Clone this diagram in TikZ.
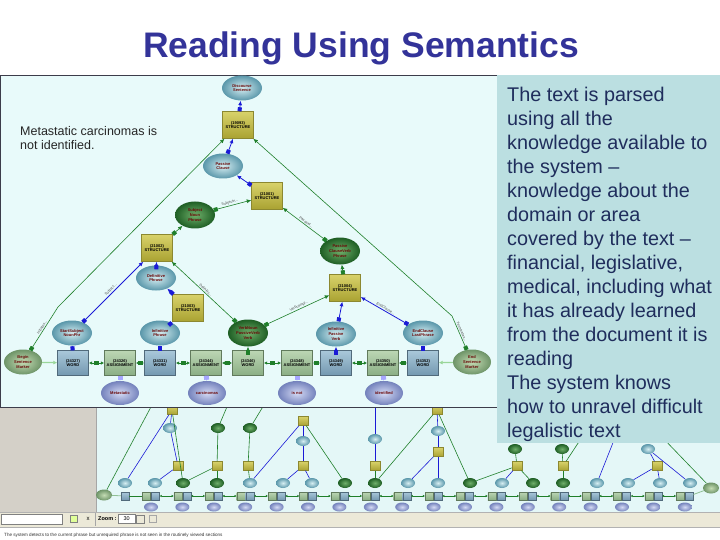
\documentclass[tikz,border=0pt]{standalone}
\usepackage{fontspec}
\setmainfont{Liberation Sans}
\usetikzlibrary{shapes.geometric,arrows.meta}
\definecolor{titleblue}{HTML}{333399}
\definecolor{navytext}{HTML}{1F2D5C}
\definecolor{rbox}{HTML}{BBDFE1}
\definecolor{insetbg}{HTML}{E8FAFA}
\definecolor{lowbg}{HTML}{E4F7F7}
\definecolor{panel}{HTML}{D4D0C8}
\definecolor{toolbar}{HTML}{ECE9D8}
\definecolor{tealL}{HTML}{D6EEF2}
\definecolor{tealD}{HTML}{5A97AA}
\definecolor{greenL}{HTML}{6FAF6A}
\definecolor{greenD}{HTML}{1E5E24}
\definecolor{ggL}{HTML}{C4DCB4}
\definecolor{ggD}{HTML}{6E9468}
\definecolor{purL}{HTML}{D4DAF4}
\definecolor{purD}{HTML}{7482BC}
\definecolor{yelT}{HTML}{D8D26A}
\definecolor{yelB}{HTML}{A9A232}
\definecolor{yelE}{HTML}{8C8830}
\definecolor{wbT}{HTML}{A9C8DA}
\definecolor{wbB}{HTML}{7498B0}
\definecolor{agT}{HTML}{BCD6B4}
\definecolor{agB}{HTML}{8AAE84}
\definecolor{lblue}{HTML}{1A1AD6}
\definecolor{lgreen}{HTML}{1F7F2A}
\definecolor{labred}{HTML}{6A0808}
\definecolor{framegray}{HTML}{3C3C4A}
\begin{document}
\begin{tikzpicture}[x=1pt,y=-1pt,
  nodefont/.style={font=\fontsize{4}{4.6}\selectfont\bfseries, align=center},
  tl/.style={ellipse, inner color=tealL, outer color=tealD, minimum width=40pt, minimum height=25pt, inner sep=0pt, text=labred, nodefont},
  gn/.style={ellipse, inner color=greenL, outer color=greenD, minimum width=40pt, minimum height=27pt, inner sep=0pt, text=labred, nodefont},
  gg/.style={ellipse, inner color=ggL, outer color=ggD, minimum width=38pt, minimum height=25pt, inner sep=0pt, text=labred, nodefont},
  pu/.style={ellipse, inner color=purL, outer color=purD, minimum width=38pt, minimum height=24pt, inner sep=0pt, text=labred, nodefont},
  yb/.style={rectangle, top color=yelT, bottom color=yelB, draw=yelE, line width=0.4pt, minimum width=31pt, minimum height=27pt, inner sep=0pt, nodefont, text=black},
  wb/.style={rectangle, top color=wbT, bottom color=wbB, draw=wbB!70!black, line width=0.4pt, minimum width=31pt, minimum height=25pt, inner sep=0pt, nodefont, text=black},
  ab/.style={rectangle, top color=agT, bottom color=agB, draw=agB!70!black, line width=0.4pt, minimum width=31pt, minimum height=25pt, inner sep=0pt, nodefont, text=black},
  stl/.style={tl, minimum width=14pt, minimum height=10pt},
  sgn/.style={gn, minimum width=14pt, minimum height=10pt},
  sgg/.style={gg, minimum width=16pt, minimum height=11pt},
  spu/.style={pu, minimum width=14pt, minimum height=9pt},
  syb/.style={yb, minimum width=10pt, minimum height=9pt},
  swb/.style={wb, minimum width=8pt, minimum height=8pt},
  sab/.style={ab, minimum width=8pt, minimum height=8pt},
  bl/.style={draw=lblue, line width=0.8pt, {Square[length=4pt,width=4pt]}-{Latex[length=4.5pt,width=4pt]}},
  gr/.style={draw=lgreen, line width=0.6pt, {Square[length=4pt,width=4pt]}-{Latex[length=4.5pt,width=4pt]}},
  rowc/.style={draw=lgreen, line width=0.8pt, {Latex[length=3.5pt,width=3.5pt]}-{Latex[length=3.5pt,width=3.5pt]}},
  lgc/.style={draw=green!60!black!40, line width=1.2pt, -{Latex[length=4pt,width=4pt]}},
  lbc/.style={draw=blue!35, line width=1.2pt, {Square[length=4pt,width=5pt]}-{Latex[length=3pt,width=4pt]}},
  sbl/.style={draw=lblue, line width=0.6pt},
  sgr/.style={draw=lgreen, line width=0.6pt},
  elab/.style={font=\fontsize{3.6}{4}\selectfont, text=black!70, sloped, above, inner sep=1pt}
]
\useasboundingbox (0,0) rectangle (720,540);
\fill[white] (0,0) rectangle (720,540);

% ---------- title ----------
\node[anchor=base, text=titleblue, font=\fontsize{35.5}{40}\selectfont\bfseries, inner sep=0pt] (title) at (361,58) {Reading Using Semantics};

% ---------- lower background screenshot ----------
\fill[lowbg] (96,400) rectangle (720,512);
\fill[panel] (0,400) rectangle (96,512);
\draw[gray!70] (96,400) -- (96,512);
\fill[toolbar] (0,512) rectangle (720,527);
\draw[gray!60] (0,512) -- (720,512);
\draw[gray!60] (0,527) -- (720,527);
\fill[white] (1,514) rectangle (62,524);
\draw[gray] (1,514) rectangle (62,524);
\node[draw=gray, fill=green!30!yellow!40, minimum size=7pt, inner sep=0pt] (ico1) at (74,519) {};
\node[font=\fontsize{6}{6}\selectfont, inner sep=0pt] (ico2) at (88,519) {x};
\draw[gray!70] (95,513) -- (95,526);
\node[anchor=west, font=\fontsize{5.5}{6}\selectfont\bfseries, inner sep=0pt] (zoomlab) at (98,519) {Zoom :};
\node[anchor=west, draw=gray, fill=white, minimum width=17pt, minimum height=9pt, inner sep=1pt, font=\fontsize{5.5}{6}\selectfont] (zoomval) at (118,519) {30\hfill};
\node[draw=gray, fill=toolbar, minimum size=8pt, inner sep=0pt] (zdrop) at (140,519) {};
\node[draw=gray!70, fill=toolbar, minimum size=7pt, inner sep=0pt] (zbtn) at (153,519) {};
\node[anchor=west, font=\fontsize{4.6}{5}\selectfont, text=black!80, inner sep=0pt] (caption) at (4,535) {The system detects to the current phrase but unrequired phrase is not seen in the routinely viewed sections};

% row of small nodes
\foreach \k in {0,...,17}{
  \pgfmathsetmacro\cx{151+31.4*\k}
  \node[sab] (pa\k) at (\cx-4.5,496) {};
  \node[swb] (pb\k) at (\cx+4.5,496) {};
  \node[spu] (pe\k) at (\cx,507) {};
}
\node[sgg] (bgn) at (104,495) {};
\node[swb] (pfirst) at (125,496) {};
\node[sgg] (endm) at (711,488) {};
\draw[lgreen!50, line width=0.8pt] (bgn) -- (pfirst);
\draw[lgreen, line width=0.8pt] (pfirst) -- (pa0);
\foreach \k in {0,...,16}{
  \pgfmathtruncatemacro\n{\k+1}
  \draw[lgreen, line width=0.8pt, {Latex[length=2pt,width=2.5pt]}-{Latex[length=2pt,width=2.5pt]}] (pb\k) -- (pa\n);
}
\draw[lgreen!50, line width=0.8pt] (pb17) -- (endm);

\foreach \x/\s [count=\i] in {125/stl,155/stl,183/sgn,217/sgn,250/stl,283/stl,312/stl,345/sgn,375/sgn,408/stl,438/stl,470/sgn,502/stl,533/sgn,563/sgn,597/stl,628/stl,660/stl,690/stl}{
  \node[\s] (ue\i) at (\x,483) {};
}
\foreach \x/\y [count=\i] in {172/410,303/421,178/466,217/466,248/466,303/466,375/466,437/410,438/452,517/466,563/466,657/466}{
  \node[syb] (yb\i) at (\x,\y) {};
}
\foreach \x/\y/\s [count=\i] in {170/428/stl,218/428/sgn,250/428/sgn,303/441/stl,375/439/stl,438/431/stl,515/449/sgn,562/449/sgn,648/449/stl}{
  \node[\s] (me\i) at (\x,\y) {};
}
\coordinate (k1) at (160,390);
\coordinate (k2) at (232,395);
\coordinate (k3) at (270,395);
\coordinate (k4) at (375,395);
\coordinate (k5) at (620,425);
\coordinate (k6) at (660,435);
\coordinate (k7) at (590,425);
\draw[sgr] (bgn) -- (k1);
\draw[sbl] (ue1) -- (yb1);
\draw[sbl] (ue2) -- (yb3);
\draw[sbl] (yb3) -- (me1);
\draw[sbl] (me1) -- (yb1);
\draw[sgr] (yb1) -- (ue3);
\draw[sgr] (ue3) -- (yb4);
\draw[sgr] (ue4) -- (yb4);
\draw[sgr] (yb4) -- (me2);
\draw[sgr] (me2) -- (k2);
\draw[sgr] (ue5) -- (yb5);
\draw[sgr] (yb5) -- (me3);
\draw[sgr] (me3) -- (k3);
\draw[sbl] (ue5) -- (yb2);
\draw[sbl] (yb2) -- (me4);
\draw[sbl] (me4) -- (yb6);
\draw[sbl] (ue6) -- (yb6);
\draw[sbl] (ue7) -- (yb6);
\draw[sgr] (yb2) -- (ue8);
\draw[sbl] (k4) -- (me5);
\draw[sbl] (me5) -- (yb7);
\draw[sgr] (yb7) -- (ue9);
\draw[sgr] (ue9) -- (yb8);
\draw[sgr] (yb8) -- (ue12);
\draw[sbl] (yb8) -- (me6);
\draw[sbl] (me6) -- (yb9);
\draw[sbl] (yb9) -- (ue11);
\draw[sbl] (ue10) -- (yb9);
\draw[sgr] (ue12) -- (yb10);
\draw[sbl] (ue13) -- (yb10);
\draw[sgr] (ue14) -- (yb10);
\draw[sgr] (yb10) -- (me7);
\draw[sgr] (ue15) -- (yb11);
\draw[sgr] (yb11) -- (me8);
\draw[sgr] (yb11) -- (k7);
\draw[sbl] (ue16) -- (k5);
\draw[sbl] (ue17) -- (yb12);
\draw[sbl] (ue18) -- (yb12);
\draw[sbl] (yb12) -- (me9);
\draw[sbl] (ue19) -- (me9);
\draw[sgr] (endm) -- (k6);

% ---------- inset window ----------
\fill[insetbg] (0,75) rectangle (497,407);
\draw[framegray, line width=1pt] (0.5,75.5) rectangle (497,407);
\node[anchor=north west, align=left, inner sep=0pt, text=black!85, font=\fontsize{12.5}{14}\selectfont] (note) at (20,126) {Metastatic carcinomas is\\not identified.};

\node[tl] (DS) at (242,88) {Discourse\\Sentence};
\node[yb] (S1) at (238,125) {(19093)\\STRUCTURE};
\node[tl] (PC) at (223,166) {Passive\\Clause};
\node[yb] (S2) at (267,196) {(21001)\\STRUCTURE};
\node[gn] (SNP) at (195,215) {Subject\\Noun\\Phrase};
\node[yb] (S3) at (157,248) {(21002)\\STRUCTURE};
\node[gn] (PCVP) at (340,251) {Passive\\ClauseVerb\\Phrase};
\node[yb] (S4) at (345,288) {(21004)\\STRUCTURE};
\node[tl] (DP) at (156,278) {Definitive\\Phrase};
\node[yb] (S5) at (188,308) {(21003)\\STRUCTURE};
\node[tl] (SS) at (72,333) {StartSubject\\NounPhr};
\node[tl] (IP) at (160,333) {Infinitive\\Phrase};
\node[gn] (VN) at (248,333) {VerbNoun\\PassiveVerb\\Verb};
\node[tl] (IV) at (336,334) {Infinitive\\Passive\\Verb};
\node[tl] (EC) at (423,333) {EndClause\\LastPhrase};
\node[gg] (BM) at (23,362) {Begin\\Sentence\\Marker};
\node[wb] (W1) at (73,363) {(24327)\\WORD};
\node[ab] (A1) at (120,363) {(24326)\\ASSIGNMENT};
\node[wb] (W2) at (160,363) {(24331)\\WORD};
\node[ab] (A2) at (206,363) {(24344)\\ASSIGNMENT};
\node[ab] (W3) at (248,363) {(24346)\\WORD};
\node[ab] (A3) at (297,363) {(24348)\\ASSIGNMENT};
\node[wb] (W4) at (336,363) {(24349)\\WORD};
\node[ab] (A4) at (383,363) {(24350)\\ASSIGNMENT};
\node[wb] (W5) at (423,363) {(24352)\\WORD};
\node[gg] (EM) at (472,362) {End\\Sentence\\Marker};
\node[pu] (E1) at (120,393) {Metastatic};
\node[pu] (E2) at (207,393) {carcinomas};
\node[pu] (E3) at (297,393) {is not};
\node[pu] (E4) at (384,393) {identified};

\coordinate (c1) at (58,307);
\coordinate (c2) at (452,316);

\draw[bl] (S1) -- (DS);
\draw[bl] (PC) -- (S1);
\draw[bl] (S2) -- (PC);
\draw[gr] (SNP) -- node[elab, pos=0.45] {Subjectn...} (S2);
\draw[gr] (S3) -- (SNP);
\draw[gr] (BM) -- node[elab] {Initiates...} (c1) -- (S1);
\draw[gr] (EM) -- node[elab] {Terminates...} (c2) -- (S1);
\draw[gr] (PCVP) -- node[elab] {Passivel...} (S2);
\draw[gr] (S4) -- (PCVP);
\draw[bl] (DP) -- (S3);
\draw[bl] (S5) -- (DP);
\draw[gr] (VN) -- node[elab] {Definitiv...} (S3);
\draw[bl] (SS) -- node[elab] {Subject...} (S3);
\draw[bl] (IP) -- (S5);
\draw[gr] (VN) -- node[elab, pos=0.55] {Verbcompl...} (S4);
\draw[bl] (IV) -- (S4);
\draw[bl] (EC) -- node[elab] {EndClause...} (S4);
\draw[bl] (W1) -- (SS);
\draw[bl] (W2) -- (IP);
\draw[gr] (W3) -- (VN);
\draw[bl] (W4) -- (IV);
\draw[bl] (W5) -- (EC);
\draw[lgc] (BM) -- (W1);
\draw[lgc] (EM) -- (W5);
\foreach \a/\b in {W1/A1,A1/W2,W2/A2,A2/W3,W3/A3,A3/W4,W4/A4,A4/W5}{
  \draw[rowc] (\a) -- node[fill=lgreen, minimum width=5pt, minimum height=3.5pt, inner sep=0pt] {} (\b);
}
\draw[lbc] (A1) -- (E1);
\draw[lbc] (A2) -- (E2);
\draw[lbc] (A3) -- (E3);
\draw[lbc] (A4) -- (E4);

% ---------- right text box ----------
\fill[rbox] (497,75) rectangle (720,443);
\node[anchor=north west, align=left, inner sep=0pt, text=navytext, font=\fontsize{19.8}{24}\selectfont] (desc) at (507,86.5) {The text is parsed\\using all the\\knowledge available to\\the system --\\knowledge about the\\domain or area\\covered by the text --\\financial, legislative,\\medical, including what\\it has already learned\\from the document it is\\reading\\The system knows\\how to unravel difficult\\legalistic text};
\end{tikzpicture}
\end{document}
